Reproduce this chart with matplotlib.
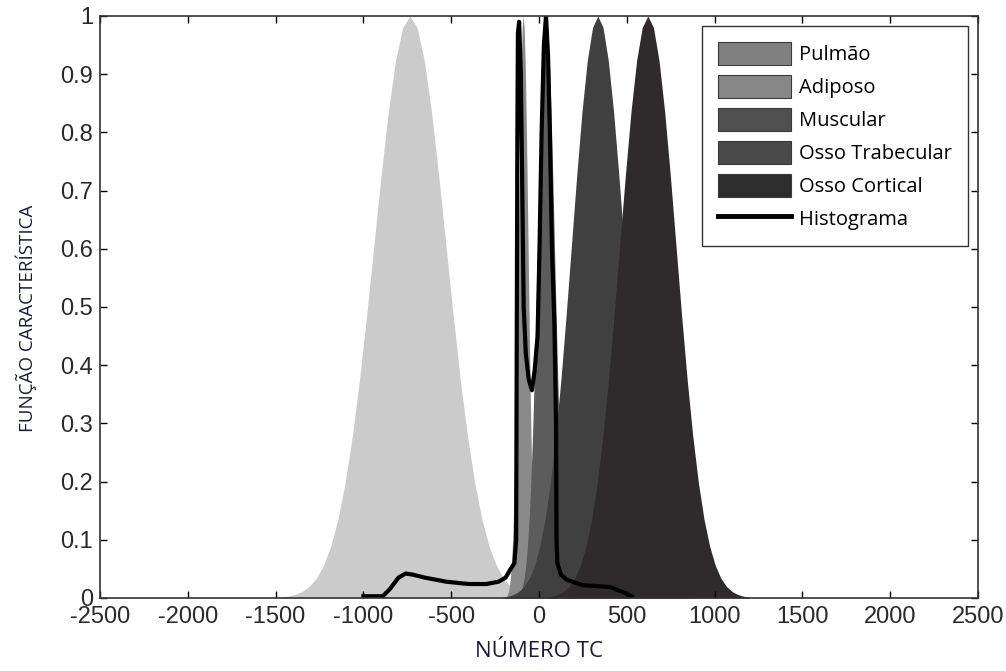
import numpy as np
import matplotlib
matplotlib.use("Agg")
import matplotlib.pyplot as plt
from matplotlib.patches import Patch
from matplotlib.lines import Line2D
from matplotlib.ticker import FormatStrFormatter

plt.rcParams["axes.unicode_minus"] = False

# normalised bell shape shared by the characteristic functions
bell_y = [0.0015, 0.0031, 0.0060, 0.0111, 0.0198, 0.0340, 0.0561, 0.0889, 0.1353, 0.1979,
          0.2780, 0.3753, 0.4868, 0.6065, 0.7261, 0.8353, 0.9231, 0.9802, 1.0,
          0.9802, 0.9231, 0.8353, 0.7261, 0.6065, 0.4868, 0.3753, 0.2780, 0.1979, 0.1353,
          0.0889, 0.0561, 0.0340, 0.0198, 0.0111, 0.0060, 0.0031, 0.0015]

pulmao_x = [-1473, -1432, -1391, -1350, -1309, -1268, -1227, -1186, -1145, -1104,
            -1063, -1022, -981, -940, -899, -858, -817, -776, -735,
            -694, -653, -612, -571, -530, -489, -448, -407, -366, -325,
            -284, -243, -202, -161, -120, -79, -38, 3]

adiposo_x = [-190.8, -185.2, -179.6, -174, -168.4, -162.8, -157.2, -151.6, -146, -140.4,
             -134.8, -129.2, -123.6, -118, -112.4, -106.8, -101.2, -95.6, -90,
             -84.4, -78.8, -73.2, -67.6, -62, -56.4, -50.8, -45.2, -39.6, -34,
             -28.4, -22.8, -17.2, -11.6, -6, -0.4, 5.2, 10.8]

muscular_x = [-132.8, -123.2, -113.6, -104, -94.4, -84.8, -75.2, -65.6, -56, -46.4,
              -36.8, -27.2, -17.6, -8, 1.6, 11.2, 20.8, 30.4, 40,
              49.6, 59.2, 68.8, 78.4, 88, 97.6, 107.2, 116.8, 126.4, 136,
              145.6, 155.2, 164.8, 174.4, 184, 193.6, 203.2, 212.8]

trabecular_x = [-205, -175, -145, -115, -85, -55, -25, 5, 35, 65,
                95, 125, 155, 185, 215, 245, 275, 305, 335,
                365, 395, 425, 455, 485, 515, 545, 575, 605, 635,
                665, 695, 725, 755, 785, 815, 845, 875]

cortical_x = [44, 76, 108, 140, 172, 204, 236, 268, 300, 332,
              364, 396, 428, 460, 492, 524, 556, 588, 620,
              652, 684, 716, 748, 780, 812, 844, 876, 908, 940,
              972, 1004, 1036, 1068, 1100, 1132, 1164, 1196]

# histogram of CT numbers
hist_x = [-1000, -890, -850, -800, -760, -717, -650, -528, -400, -300, -230, -190, -165,
          -140, -130, -127, -123, -120, -113, -103, -95, -87, -75, -58, -40, -25, -8,
          3, 15, 28, 40, 52, 62, 74, 88, 97, 100, 105, 125, 160, 250, 404, 480, 528]
hist_y = [0.003, 0.003, 0.015, 0.035, 0.042, 0.040, 0.035, 0.028, 0.024, 0.024, 0.028, 0.035, 0.048,
          0.06, 0.10, 0.40, 0.80, 0.97, 0.99, 0.90, 0.70, 0.50, 0.42, 0.375, 0.357, 0.39, 0.45,
          0.60, 0.80, 0.95, 1.0, 0.93, 0.80, 0.60, 0.47, 0.30, 0.10, 0.06, 0.04, 0.031, 0.022, 0.019, 0.010, 0.003]

labels = ["Pulmão", "Adiposo", "Muscular", "Osso Trabecular", "Osso Cortical", "Histograma"]
fill_colors = ["#cbcbcb", "#8a8a8a", "#5c5c5c", "#404040", "#2f2b2c"]
legend_colors = ["#808080", "#878787", "#505050", "#4a4a4a", "#2d2d2d"]

fig = plt.figure(figsize=(10.06, 6.71), dpi=100)
ax = fig.add_axes([0.0994, 0.1088, 0.8727, 0.8674])

curves = [pulmao_x, adiposo_x, muscular_x, trabecular_x, cortical_x]
for cx, col in zip(curves, fill_colors):
    ax.fill_between(cx, 0, bell_y, color=col, linewidth=0)

ax.plot(hist_x, hist_y, color="black", lw=3, solid_joinstyle="round")

ax.set_xlim(-2500, 2500)
ax.set_ylim(0, 1)
ax.set_xticks(np.arange(-2500, 2501, 500))
ax.set_yticks(np.arange(0, 1.01, 0.1))
ax.yaxis.set_major_formatter(FormatStrFormatter("%g"))
ax.tick_params(direction="in", top=True, right=True, length=5, width=1, labelsize=17)
ax.tick_params(axis="x", pad=6)
ax.tick_params(axis="y", pad=5)
for lab in ax.get_xticklabels() + ax.get_yticklabels():
    lab.set_fontfamily("Liberation Sans")
    lab.set_color("#2a2a2a")
for s in ax.spines.values():
    s.set_linewidth(1.2)
    s.set_color("#333333")

ax.set_xlabel("NÚMERO TC", fontsize=16, family="Open Sans", color="#1c1c3a", labelpad=9)
ax.set_ylabel("FUNÇÃO CARACTERÍSTICA", fontsize=13.5, family="Open Sans", color="#1c1c3a")
ax.yaxis.set_label_coords(-0.0718, 0.481)

handles = [Patch(facecolor=c, edgecolor="#3a3a3a", lw=0.8) for c in legend_colors]
handles.append(Line2D([0], [0], color="black", lw=3.5))
leg = ax.legend(handles, labels, loc="upper right", bbox_to_anchor=(1.0, 1.0),
                prop={"family": "Open Sans", "size": 14.5}, frameon=True, fancybox=False,
                edgecolor="black", handlelength=3.63, handleheight=1.39, labelspacing=0.48,
                handletextpad=0.37, borderpad=0.8, borderaxespad=0.5)
leg.get_frame().set_linewidth(1.0)

fig.savefig("out.png", dpi=100)
